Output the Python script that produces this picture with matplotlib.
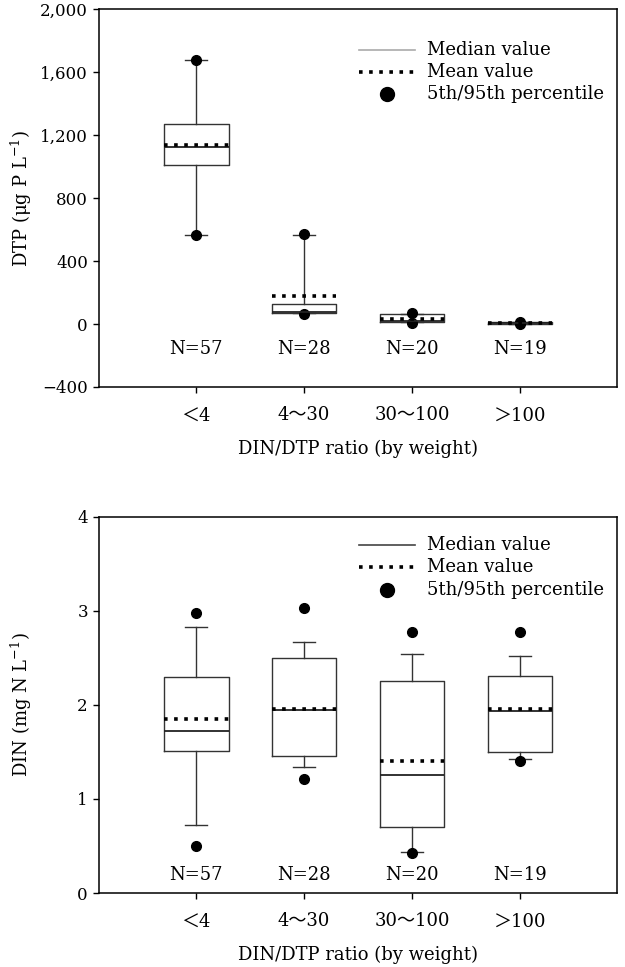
import matplotlib
matplotlib.use("Agg")
import matplotlib.pyplot as plt

plt.rcParams["font.family"] = ["DejaVu Serif", "Noto Sans CJK SC"]
plt.rcParams["mathtext.fontset"] = "dejavuserif"

# ---------------------------------------------------------------------------
# Data
# ---------------------------------------------------------------------------
categories = ["＜4", "4～30", "30～100", "＞100"]
n_labels = ["N=57", "N=28", "N=20", "N=19"]

# DTP (ug P/L)
dtp_q1 = [1011, 72, 13, 2]
dtp_med = [1124, 75, 22, 5]
dtp_q3 = [1268, 127, 64, 10]
dtp_mean = [1140, 180, 30, 8]
dtp_whislo = [568, 68, 10, 2]
dtp_whishi = [1680, 564, 66, 12]
dtp_p5 = [568, 62, 8, 2]
dtp_p95 = [1680, 572, 72, 14]

# DIN (mg N/L)
din_q1 = [1.51, 1.455, 0.70, 1.50]
din_med = [1.72, 1.95, 1.25, 1.93]
din_q3 = [2.30, 2.50, 2.25, 2.31]
din_mean = [1.85, 1.96, 1.40, 1.96]
din_whislo = [0.72, 1.345, 0.44, 1.42]
din_whishi = [2.83, 2.67, 2.54, 2.52]
din_p5 = [0.50, 1.21, 0.43, 1.405]
din_p95 = [2.98, 3.03, 2.78, 2.78]


def make_stats(q1, med, q3, mean, lo, hi, p5, p95):
    return [
        dict(q1=a, med=b, q3=c, mean=d, whislo=e, whishi=f, fliers=[g, h])
        for a, b, c, d, e, f, g, h in zip(q1, med, q3, mean, lo, hi, p5, p95)
    ]


def draw_panel(ax, stats, ylim, yticks, yticklabels, ylabel, n_y, median_legend_color):
    pos = [1, 2, 3, 4]
    ax.bxp(
        stats,
        positions=pos,
        widths=0.6,
        capwidths=0.2,
        showmeans=True,
        meanline=True,
        manage_ticks=False,
        boxprops=dict(color="#333333", linewidth=1.0),
        medianprops=dict(color="#222222", linewidth=1.3),
        meanprops=dict(color="black", linewidth=2.6, linestyle=(0, (1, 1.8))),
        whiskerprops=dict(color="#333333", linewidth=1.0),
        capprops=dict(color="#333333", linewidth=1.0),
        flierprops=dict(marker="o", markerfacecolor="black",
                        markeredgecolor="black", markersize=7, linestyle="none"),
    )
    ax.set_xlim(0.1, 4.9)
    ax.set_ylim(*ylim)
    ax.set_yticks(yticks)
    ax.set_yticklabels(yticklabels, fontsize=12)
    ax.set_xticks(pos)
    ax.set_xticklabels(categories, fontsize=13)
    ax.tick_params(axis="y", direction="out", length=4, width=1, pad=4)
    ax.tick_params(axis="x", direction="out", length=4, width=1, pad=10)
    for s in ax.spines.values():
        s.set_linewidth(1.1)

    for x, lab in zip(pos, n_labels):
        ax.text(x, n_y, lab, ha="center", va="center", fontsize=13)

    ax.set_ylabel(ylabel, fontsize=13)
    ax.yaxis.set_label_coords(-0.125, 0.5)
    ax.set_xlabel("DIN/DTP ratio (by weight)", fontsize=13)
    ax.xaxis.set_label_coords(0.5, -0.14)

    # legend drawn by hand
    rows = [0.892, 0.834, 0.777] if ylim[0] < 0 else [0.925, 0.866, 0.806]
    tr = ax.transAxes
    ax.plot([0.502, 0.610], [rows[0], rows[0]], color=median_legend_color,
            linewidth=1.2, transform=tr)
    ax.plot([0.502, 0.610], [rows[1], rows[1]], color="black", linewidth=2.6,
            linestyle=(0, (1, 1.8)), transform=tr)
    ax.plot([0.556], [rows[2]], marker="o", color="black", markersize=10,
            linestyle="none", transform=tr)
    for r, t in zip(rows, ["Median value", "Mean value", "5th/95th percentile"]):
        ax.text(0.633, r, t, transform=tr, ha="left", va="center", fontsize=13)


fig = plt.figure(figsize=(6.25, 9.67), dpi=100)
ax1 = fig.add_axes([0.1584, 0.5998, 0.8288, 0.3906])
ax2 = fig.add_axes([0.1584, 0.0765, 0.8288, 0.3891])

draw_panel(
    ax1,
    make_stats(dtp_q1, dtp_med, dtp_q3, dtp_mean, dtp_whislo, dtp_whishi, dtp_p5, dtp_p95),
    (-400, 2000),
    [-400, 0, 400, 800, 1200, 1600, 2000],
    ["\u2212400", "0", "400", "800", "1,200", "1,600", "2,000"],
    "DTP (\u03bcg P L$^{-1}$)",
    -160,
    "#aaaaaa",
)
draw_panel(
    ax2,
    make_stats(din_q1, din_med, din_q3, din_mean, din_whislo, din_whishi, din_p5, din_p95),
    (0, 4),
    [0, 1, 2, 3, 4],
    ["0", "1", "2", "3", "4"],
    "DIN (mg N L$^{-1}$)",
    0.19,
    "#444444",
)

fig.savefig("out.png", dpi=100)
